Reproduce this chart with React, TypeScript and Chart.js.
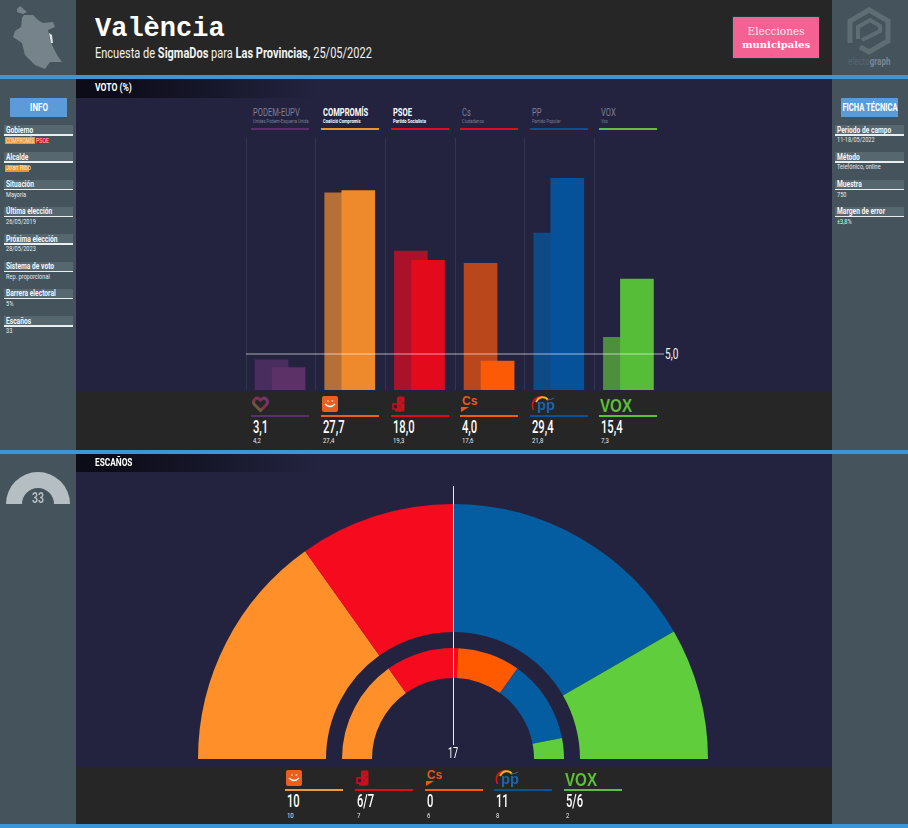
import React, { useEffect, useRef } from "react";
import { Chart, registerables } from "chart.js";

Chart.register(...registerables);

const voteParties = ["PODEM-EUPV", "COMPROMÍS", "PSOE", "Cs", "PP", "VOX"];
const voteSubtitles = ["Unides Podem-Esquerra Unida", "Coalició Compromís", "Partido Socialista", "Ciudadanos", "Partido Popular", "Vox"];
const voteActive = [false, true, true, false, false, false];
const voteCurrent = [3.1, 27.7, 18.0, 4.0, 29.4, 15.4];
const votePrevious = [4.2, 27.4, 19.3, 17.6, 21.8, 7.3];
const voteCurrentLabels = ["3,1", "27,7", "18,0", "4,0", "29,4", "15,4"];
const votePreviousLabels = ["4,2", "27,4", "19,3", "17,6", "21,8", "7,3"];
const threshold = 5;
const thresholdLabel = "5,0";

const barColors = ["#5b3167", "#ee8a2c", "#e30a1c", "#fd5a05", "#05529a", "#55bd38"];
const prevColors = ["#4a2d5f", "#b66f36", "#aa1229", "#b9471b", "#0e4a86", "#4e8f3d"];
const topLineColors = ["#5a2f6b", "#f0912a", "#e30a1c", "#e30a1c", "#05529a", "#5cc038"];
const bottomLineColors = ["#5a2f6b", "#e8601a", "#e30a1c", "#fd5a05", "#05529a", "#5cc038"];

const seatParties = ["COMPROMÍS", "PSOE", "Cs", "PP", "VOX"];
const seatsCurrent = [10, 6.5, 0, 11, 5.5];
const seatsPrevious = [10, 7, 6, 8, 2];
const seatCurrentLabels = ["10", "6/7", "0", "11", "5/6"];
const seatPreviousLabels = ["10", "7", "6", "8", "2"];
const seatColors = ["#ff9029", "#f50a1e", "#ff5a00", "#035da0", "#60cd3c"];
const seatLineColors = ["#f09a35", "#e30a1c", "#fd5a05", "#05529a", "#5cc038"];
const seatLogos = ["compromis", "psoe", "cs", "pp", "vox"];
const voteLogos = ["podem", "compromis", "psoe", "cs", "pp", "vox"];
const totalSeats = 33;
const majority = "17";

const infoLeft = [
  ["Gobierno", ""],
  ["Alcalde", ""],
  ["Situación", "Mayoría"],
  ["Última elección", "26/05/2019"],
  ["Próxima elección", "28/05/2023"],
  ["Sistema de voto", "Rep. proporcional"],
  ["Barrera electoral", "5%"],
  ["Escaños", "33"],
];
const infoRight = [
  ["Periodo de campo", "11-18/05/2022"],
  ["Método", "Telefónico, online"],
  ["Muestra", "750"],
  ["Margen de error", "±3,8%"],
];

const NARROW = "Roboto, sans-serif";

function T({ x, y, size, color = "#fff", bold = false, weight, font = NARROW, center = false, children, ls, sx = 1 }: any) {
  return (
    <div
      style={{
        position: "absolute",
        left: x,
        top: y,
        fontSize: size,
        lineHeight: 1,
        color,
        fontWeight: weight || (bold ? 700 : 400),
        fontFamily: font,
        whiteSpace: "nowrap",
        letterSpacing: ls,
        transformOrigin: "0 0",
        transform: center ? `scaleX(${sx}) translate(-50%,-50%)` : `scaleX(${sx}) translateY(-50%)`,
      }}
    >
      {children}
    </div>
  );
}

function Box({ x, y, w, h, bg, style }: any) {
  return <div style={{ position: "absolute", left: x, top: y, width: w, height: h, background: bg, ...style }} />;
}

function Logo({ kind, x, y }: any) {
  const s: any = { position: "absolute", left: x, top: y, overflow: "visible" };
  if (kind === "podem")
    return (
      <svg style={s} width={18} height={18}>
        <defs>
          <linearGradient id="hg" x1="0" y1="1" x2="1" y2="0">
            <stop offset="0" stopColor="#4a8a3e" />
            <stop offset="0.5" stopColor="#8a2a4a" />
            <stop offset="1" stopColor="#6a3a7a" />
          </linearGradient>
        </defs>
        <path d="M8.5 14.5 L2.5 8.5 C0 5 3.5 1 6.5 2.5 L8.5 4 L10.5 2.5 C13.5 1 17 5 14.5 8.5 Z" fill="none" stroke="url(#hg)" strokeWidth={3} />
      </svg>
    );
  if (kind === "compromis")
    return (
      <svg style={s} width={17} height={17}>
        <rect x={0} y={0} width={16} height={16} rx={2} fill="#e85f20" />
        <path d="M3 8 Q8 13 13 8" fill="none" stroke="#fff" strokeWidth={1.3} />
        <rect x={5} y={4.5} width={1.8} height={1} fill="#fff" />
        <rect x={9.5} y={4.5} width={1.8} height={1} fill="#fff" />
      </svg>
    );
  if (kind === "psoe")
    return (
      <svg style={s} width={14} height={18}>
        <rect x={5} y={0.5} width={7.5} height={15} rx={1.5} fill="#c8101f" />
        <rect x={1} y={8} width={6} height={5} fill="none" stroke="#c8101f" strokeWidth={1.6} />
        <rect x={3} y={13} width={6} height={2.5} fill="#c8101f" />
        <circle cx={8} cy={4} r={0.8} fill="#622" />
        <circle cx={10.5} cy={7} r={0.8} fill="#622" />
        <circle cx={8} cy={10} r={0.8} fill="#622" />
      </svg>
    );
  if (kind === "cs")
    return (
      <svg style={s} width={17} height={18}>
        <text x={1} y={9} fontFamily="Liberation Sans" fontWeight={700} fontSize={12} fill="#f0580c">
          Cs
        </text>
        <path d="M0 11 L8 11 L0 16 Z" fill="#f0580c" />
      </svg>
    );
  if (kind === "pp")
    return (
      <svg style={s} width={24} height={18}>
        <path d="M2.5 14 C-1 6 5 0 11 1" fill="none" stroke="#d4141e" strokeWidth={1.8} />
        <path d="M5 6 C8 0 14 0 17 4" fill="none" stroke="#f5b51e" strokeWidth={2} />
        <path d="M16 4 Q20 4 23 2" fill="none" stroke="#1c6fb8" strokeWidth={1} />
        <text x={6} y={14} fontFamily="Liberation Sans" fontWeight={700} fontSize={15} fill="#1a64aa" textLength={18} lengthAdjust="spacingAndGlyphs">
          pp
        </text>
      </svg>
    );
  return (
    <svg style={s} width={33} height={18}>
      <text x={0} y={15.5} fontFamily="Liberation Sans" fontWeight={700} fontSize={19} fill="#5cbf38" textLength={32} lengthAdjust="spacingAndGlyphs">
        VOX
      </text>
    </svg>
  );
}

function Info({ x, yStart, items, step }: any) {
  return items.map((it: string[], i: number) => {
    const y = yStart + i * step;
    return (
      <React.Fragment key={it[0]}>
        <Box x={x} y={y} w={69} h={10} bg="#566770" />
        <Box x={x} y={y + 9} w={69} h={1.5} bg="#e8edef" />
        <T x={x + 2} y={y + 4.5} size={9.5} bold color="#f4f6f7" sx={0.7}>
          {it[0]}
        </T>
        {it[1] && (
          <T x={x + 2} y={y + 15} size={7} color="#e8ecee" sx={0.8}>
            {it[1]}
          </T>
        )}
      </React.Fragment>
    );
  });
}

const COL_LINES_VOTE = [251, 321, 391, 460, 530, 599];
const COL_LINES_SEAT = [285, 354.5, 424.5, 494, 564];

export default function App() {
  const barRef = useRef<HTMLCanvasElement>(null);
  const outerRef = useRef<HTMLCanvasElement>(null);
  const innerRef = useRef<HTMLCanvasElement>(null);
  const totalRef = useRef<HTMLCanvasElement>(null);

  useEffect(() => {
    document.body.style.margin = "0";
    const prevBarShift = 25.5 / 69.5;
    const curBarShift = 42.5 / 69.5;
    const bar = new Chart(barRef.current!, {
      type: "bar",
      data: {
        datasets: [
          {
            type: "line" as any,
            data: [
              { x: 0, y: threshold },
              { x: voteParties.length, y: threshold },
            ],
            borderColor: "rgba(255,255,255,0.62)",
            borderWidth: 1,
            pointRadius: 0,
            order: 0,
          } as any,
          {
            data: voteCurrent.map((v, i) => ({ x: i + curBarShift, y: v })),
            backgroundColor: barColors,
            barThickness: 33,
            grouped: false,
            order: 1,
          },
          {
            data: votePrevious.map((v, i) => ({ x: i + prevBarShift, y: v })),
            backgroundColor: prevColors,
            barThickness: 33,
            grouped: false,
            order: 2,
          },
        ],
      },
      options: {
        animation: false,
        responsive: false,
        maintainAspectRatio: false,
        layout: { padding: 0 },
        plugins: { legend: { display: false }, tooltip: { enabled: false } },
        scales: {
          x: {
            type: "linear",
            min: 0,
            max: voteParties.length,
            offset: false,
            ticks: { display: false, stepSize: 1 },
            border: { display: false },
            grid: { color: "#33354f", drawTicks: false, lineWidth: 1, offset: false },
          },
          y: { display: false, min: 0, max: 35 },
        },
      },
    } as any);

    const arc = (el: HTMLCanvasElement, data: number[], colors: string[], cutout: string) =>
      new Chart(el, {
        type: "doughnut",
        data: { datasets: [{ data, backgroundColor: colors, borderWidth: 0 }] },
        options: {
          animation: false,
          responsive: false,
          maintainAspectRatio: false,
          rotation: -90,
          circumference: 180,
          cutout,
          layout: { padding: 0 },
          plugins: { legend: { display: false }, tooltip: { enabled: false } },
        },
      } as any);

    const outer = arc(outerRef.current!, seatsCurrent, seatColors, "49.8%");
    const inner = arc(innerRef.current!, seatsPrevious, seatColors, "73%");
    const total = arc(totalRef.current!, [totalSeats], ["#b5bec2"], "50%");
    return () => {
      bar.destroy();
      outer.destroy();
      inner.destroy();
      total.destroy();
    };
  }, []);

  return (
    <div style={{ position: "relative", width: 908, height: 828, overflow: "hidden", background: "#232340" }}>
      {/* header and frames */}
      <Box x={76} y={0} w={756} h={75} bg="#262626" />
      <Box x={0} y={0} w={76} h={828} bg="#45545c" />
      <Box x={832} y={0} w={76} h={828} bg="#45545c" />
      <Box x={76} y={79} w={756} h={19} bg="linear-gradient(90deg,#0c0c18 0%,#0c0c18 5%,#232340 32%)" />
      <Box x={76} y={454} w={756} h={18} bg="linear-gradient(90deg,#0c0c18 0%,#0c0c18 5%,#232340 32%)" />
      <Box x={76} y={392} w={756} h={58} bg="#262626" />
      <Box x={76} y={767} w={756} h={57} bg="#262626" />
      <Box x={0} y={75} w={908} h={4} bg="#3a96d9" />
      <Box x={0} y={450} w={908} h={4} bg="#3a96d9" />
      <Box x={0} y={824} w={908} h={4} bg="#3a96d9" />

      {/* map */}
      <svg style={{ position: "absolute", left: 0, top: 0 }} width={76} height={75}>
        <path d="M17 9 L20 6 L27 12 L23 14 L17 12 Z" fill="#76838a" />
        <path
          d="M24 15 L33 15 L38 20 L43 23 L53 22 L55 27 L48 30 L50 40 L53 47 L57 55 L62 62 L50 62 L45 69 L35 65 L25 55 L22 43 L13 37 L15 31 L21 27 L22 18 Z"
          fill="#76838a"
        />
        <path d="M49 33 L52 35 L53 43 L51 43 L50 38 Z" fill="#dfe4e6" />
      </svg>

      {/* title */}
      <T x={95} y={29} size={27} bold font='"Liberation Mono", monospace'>
        València
      </T>
      <T x={95} y={54} size={14.5} color="#f2f2f2" sx={0.76}>
        Encuesta de <b>SigmaDos</b> para <b>Las Provincias,</b> 25/05/2022
      </T>

      {/* badge */}
      <Box x={733} y={17} w={86} h={41} bg="#f46293" style={{ boxShadow: "0 0 0 1px #1d3a3a" }} />
      <T x={776} y={31} size={10.5} center color="#fde8ef" font='"DejaVu Serif", serif'>
        Elecciones
      </T>
      <T x={776} y={45} size={10} center bold font='"DejaVu Serif", serif'>
        municipales
      </T>

      {/* electograph logo */}
      <svg style={{ position: "absolute", left: 0, top: 0, overflow: "visible" }} width={1} height={1}>
        <path d="M850 43 L850 21 L869 10 L888 21 L888 41 L869 52 L860 47" fill="none" stroke="#5e6c74" strokeWidth={5} />
        <path d="M858 39 L858 27 L870 20 L880 26 L880 31 L862 40" fill="none" stroke="#5e6c74" strokeWidth={4} />
      </svg>
      <T x={848} y={62} size={10} color="#56646c" sx={0.8}>
        electo<b style={{ color: "#7b8890" }}>graph</b>
      </T>

      {/* sidebar */}
      <Box x={10} y={98} w={57} h={19} bg="#5b9bd8" />
      <T x={38.5} y={107.5} size={10} bold center sx={0.8}>
        INFO
      </T>
      <Info x={4} yStart={125} items={infoLeft} step={27.3} />
      <Box x={5} y={137} w={30} h={7} bg="#f0912a" />
      <Box x={35} y={137} w={14} h={7} bg="#e30a1c" />
      <T x={6} y={140.5} size={7} color="#ffe6c4" sx={0.68}>
        COMPROMÍS
      </T>
      <T x={36} y={140.5} size={7} color="#ffd9d9" sx={0.75}>
        PSOE
      </T>
      <Box x={5} y={164.5} w={24} h={7} bg="#f0912a" />
      <T x={6} y={168} size={7} color="#fff0dc" sx={0.8}>
        Joan Ribó
      </T>

      <Box x={841} y={98} w={57} h={19} bg="#5b9bd8" />
      <T x={869.5} y={107.5} size={10} bold center sx={0.76}>
        FICHA TÉCNICA
      </T>
      <Info x={835} yStart={125} items={infoRight} step={27.3} />

      {/* total seats */}
      <canvas ref={totalRef} width={64} height={32} style={{ position: "absolute", left: 6, top: 472 }} />
      <T x={38} y={498} size={14} bold center color="#b5bec2" sx={0.75}>
        {totalSeats}
      </T>

      {/* vote section */}
      <T x={95} y={88} size={10} bold sx={0.86}>
        VOTO (%)
      </T>
      <T x={95} y={463} size={10} bold sx={0.83}>
        ESCAÑOS
      </T>
      {voteParties.map((p, i) => {
        const x = COL_LINES_VOTE[i];
        const c = voteActive[i] ? "#fff" : "#7d7f93";
        return (
          <React.Fragment key={p}>
            <T x={x + 2} y={113} size={10.5} bold={voteActive[i]} color={c} sx={0.72}>
              {p}
            </T>
            <T x={x + 2} y={122} size={5.5} bold={voteActive[i]} color={c} sx={0.75}>
              {voteSubtitles[i]}
            </T>
            <Box x={x} y={127.5} w={58} h={2} bg={topLineColors[i]} />
            <Logo kind={voteLogos[i]} x={x + 1} y={396} />
            <Box x={x} y={415} w={58} h={2} bg={bottomLineColors[i]} />
            <T x={x + 2} y={428} size={17.5} weight={500} sx={0.64}>
              {voteCurrentLabels[i]}
            </T>
            <T x={x + 2} y={441} size={8} color="#e8e8e8" sx={0.75}>
              {votePreviousLabels[i]}
            </T>
          </React.Fragment>
        );
      })}
      <canvas ref={barRef} width={418} height={252} style={{ position: "absolute", left: 246, top: 138 }} />
      <T x={665} y={354} size={14} color="#f4f4f4" sx={0.72}>
        {thresholdLabel}
      </T>

      {/* seats */}
      <canvas ref={outerRef} width={510} height={255} style={{ position: "absolute", left: 198, top: 504 }} />
      <canvas ref={innerRef} width={222} height={111} style={{ position: "absolute", left: 342, top: 648 }} />
      <Box x={452.5} y={486} w={1} h={259} bg="#e8e8f0" />
      <T x={452.5} y={753} size={14} center sx={0.65}>
        {majority}
      </T>
      {seatParties.map((p, i) => {
        const x = COL_LINES_SEAT[i];
        return (
          <React.Fragment key={p}>
            <Logo kind={seatLogos[i]} x={x + 1} y={770} />
            <Box x={x} y={789} w={58} h={2} bg={seatLineColors[i]} />
            <T x={x + 2} y={802} size={17.5} weight={500} sx={0.64}>
              {seatCurrentLabels[i]}
            </T>
            <T x={x + 2} y={816} size={8} color="#e8e8e8" sx={0.75}>
              {seatPreviousLabels[i]}
            </T>
          </React.Fragment>
        );
      })}
    </div>
  );
}
